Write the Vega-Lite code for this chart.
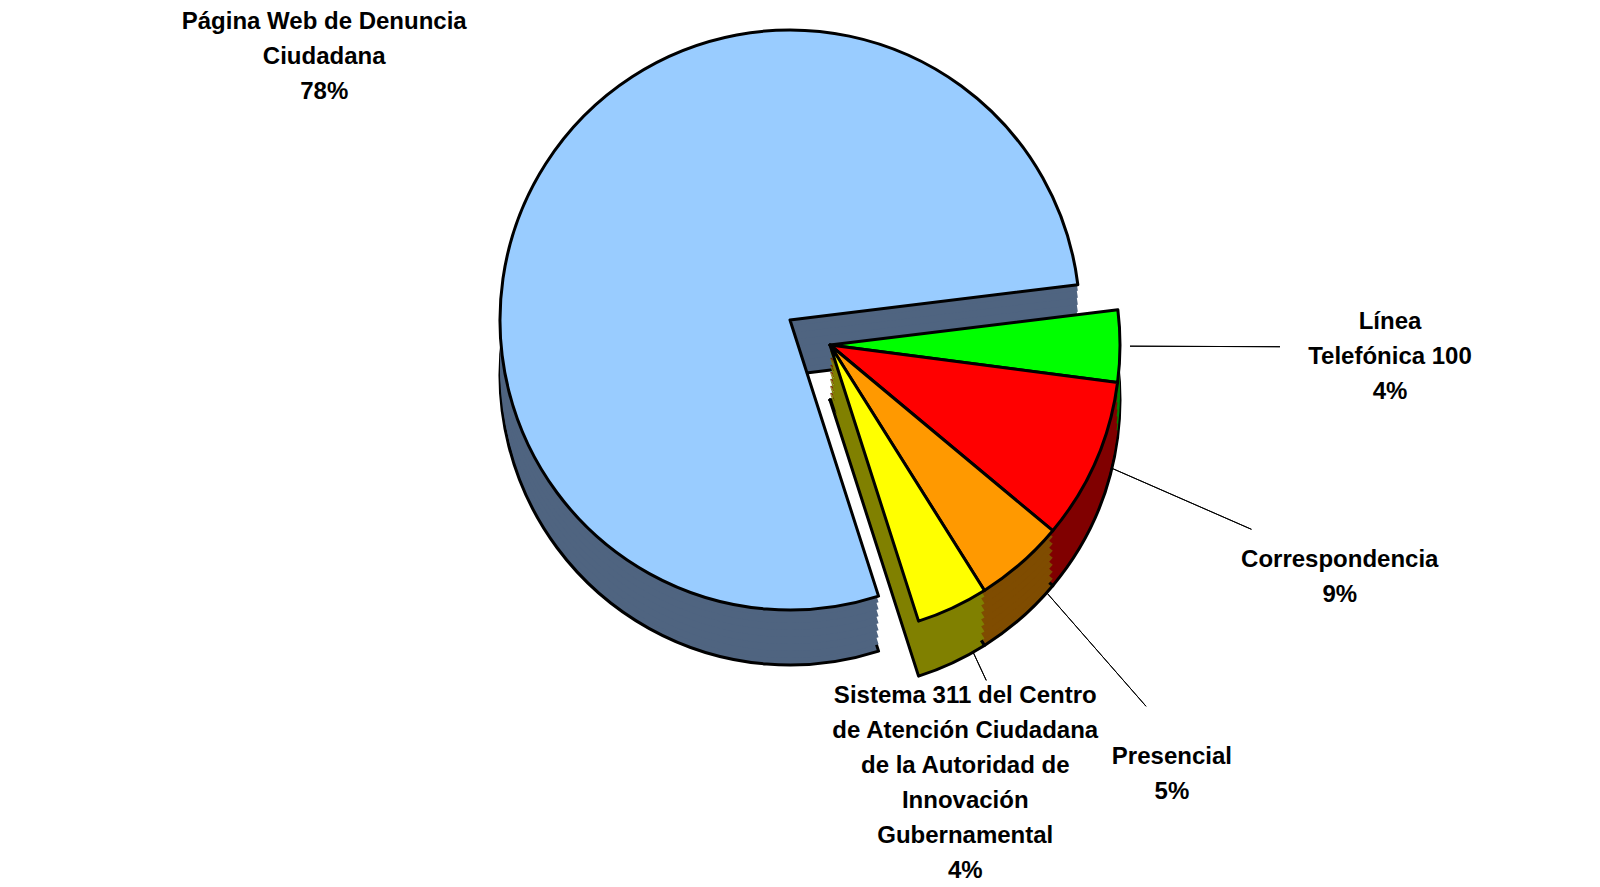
{
  "$schema": "https://vega.github.io/schema/vega-lite/v6.json",
  "width": 1580,
  "height": 640,
  "autosize": {"type": "none"},
  "padding": {"left": 0, "top": 0, "right": 20, "bottom": 247},
  "background": "#ffffff",
  "config": {"view": {"stroke": null}},
  "data": {
    "values": [
      {"orden": 1, "categoria": "Línea Telefónica 100", "porcentaje": 4, "etiqueta": "Línea\nTelefónica 100\n4%"},
      {"orden": 2, "categoria": "Correspondencia", "porcentaje": 9, "etiqueta": "Correspondencia\n9%"},
      {"orden": 3, "categoria": "Presencial", "porcentaje": 5, "etiqueta": "Presencial\n5%"},
      {"orden": 4, "categoria": "Sistema 311 del Centro de Atención Ciudadana de la Autoridad de Innovación Gubernamental", "porcentaje": 4, "etiqueta": "Sistema 311 del Centro\nde Atención Ciudadana\nde la Autoridad de\nInnovación\nGubernamental\n4%"},
      {"orden": 5, "categoria": "Página Web de Denuncia Ciudadana", "porcentaje": 78, "etiqueta": "Página Web de Denuncia\nCiudadana\n78%"}
    ]
  },
  "encoding": {
    "theta": {"field": "porcentaje", "type": "quantitative", "stack": true, "scale": {"domain": [0, 100], "range": [1.449, 7.732]}},
    "order": {"field": "orden", "type": "quantitative"}
  },
  "layer": [
    {
      "mark": {"type": "arc", "innerRadius": 300, "padAngle": 3, "filled": false, "stroke": "#000000", "strokeWidth": 1,
        "outerRadius": {"expr": "datum.orden === 1 ? 450 : datum.orden === 2 ? 460 : datum.orden === 3 ? 480 : 370"},
        "strokeOpacity": {"expr": "datum.orden === 5 ? 0 : 1"},
        "x": {"expr": "width / 2 + (datum.orden === 5 ? 0 : 40)"},
        "y": {"expr": "height / 2 + (datum.orden === 5 ? 0 : 25)"}}
    },
    {
      "encoding": {
        "color": {
          "field": "categoria", "type": "nominal", "legend": null,
          "scale": {
            "domain": ["Línea Telefónica 100", "Correspondencia", "Presencial", "Sistema 311 del Centro de Atención Ciudadana de la Autoridad de Innovación Gubernamental", "Página Web de Denuncia Ciudadana"],
            "range": ["#008000", "#800000", "#7F4C00", "#808000", "#4F6480"]
          }
        }
      },
      "layer": [
        {"mark": {"type": "arc", "outerRadius": 290, "stroke": "#000000", "strokeWidth": 3, "strokeJoin": "round",
          "x": {"expr": "width / 2 + (datum.orden === 5 ? 0 : 40)"},
          "y": {"expr": "height / 2 + (datum.orden === 5 ? 0 : 25) + 55"}}},
        {"mark": {"type": "arc", "outerRadius": 290,
          "x": {"expr": "width / 2 + (datum.orden === 5 ? 0 : 40)"},
          "y": {"expr": "height / 2 + (datum.orden === 5 ? 0 : 25) + 48"}}},
        {"mark": {"type": "arc", "outerRadius": 290,
          "x": {"expr": "width / 2 + (datum.orden === 5 ? 0 : 40)"},
          "y": {"expr": "height / 2 + (datum.orden === 5 ? 0 : 25) + 41"}}},
        {"mark": {"type": "arc", "outerRadius": 290,
          "x": {"expr": "width / 2 + (datum.orden === 5 ? 0 : 40)"},
          "y": {"expr": "height / 2 + (datum.orden === 5 ? 0 : 25) + 34"}}},
        {"mark": {"type": "arc", "outerRadius": 290,
          "x": {"expr": "width / 2 + (datum.orden === 5 ? 0 : 40)"},
          "y": {"expr": "height / 2 + (datum.orden === 5 ? 0 : 25) + 27"}}},
        {"mark": {"type": "arc", "outerRadius": 290,
          "x": {"expr": "width / 2 + (datum.orden === 5 ? 0 : 40)"},
          "y": {"expr": "height / 2 + (datum.orden === 5 ? 0 : 25) + 20"}}},
        {"mark": {"type": "arc", "outerRadius": 290,
          "x": {"expr": "width / 2 + (datum.orden === 5 ? 0 : 40)"},
          "y": {"expr": "height / 2 + (datum.orden === 5 ? 0 : 25) + 13"}}},
        {"mark": {"type": "arc", "outerRadius": 290,
          "x": {"expr": "width / 2 + (datum.orden === 5 ? 0 : 40)"},
          "y": {"expr": "height / 2 + (datum.orden === 5 ? 0 : 25) + 6"}}}
      ]
    },
    {
      "mark": {"type": "arc", "outerRadius": 290, "stroke": "#000000", "strokeWidth": 3, "strokeJoin": "round",
        "x": {"expr": "width / 2 + (datum.orden === 5 ? 0 : 40)"},
        "y": {"expr": "height / 2 + (datum.orden === 5 ? 0 : 25)"}},
      "encoding": {
        "color": {
          "field": "categoria", "type": "nominal", "legend": null,
          "scale": {
            "domain": ["Línea Telefónica 100", "Correspondencia", "Presencial", "Sistema 311 del Centro de Atención Ciudadana de la Autoridad de Innovación Gubernamental", "Página Web de Denuncia Ciudadana"],
            "range": ["#00FF00", "#FF0000", "#FF9900", "#FFFF00", "#99CCFF"]
          }
        }
      }
    },
    {
      "mark": {"type": "text", "font": "Liberation Sans", "fontWeight": "bold", "fontSize": 24, "lineHeight": 35, "lineBreak": "\n", "align": "center", "baseline": "middle", "color": "#000000",
        "radius": {"expr": "datum.orden === 5 ? 553 : datum.orden === 1 ? 600 : datum.orden === 2 ? 600 : datum.orden === 3 ? 580 : 415"}},
      "encoding": {"text": {"field": "etiqueta", "type": "nominal"}}
    }
  ],
  "resolve": {"scale": {"color": "independent"}}
}
